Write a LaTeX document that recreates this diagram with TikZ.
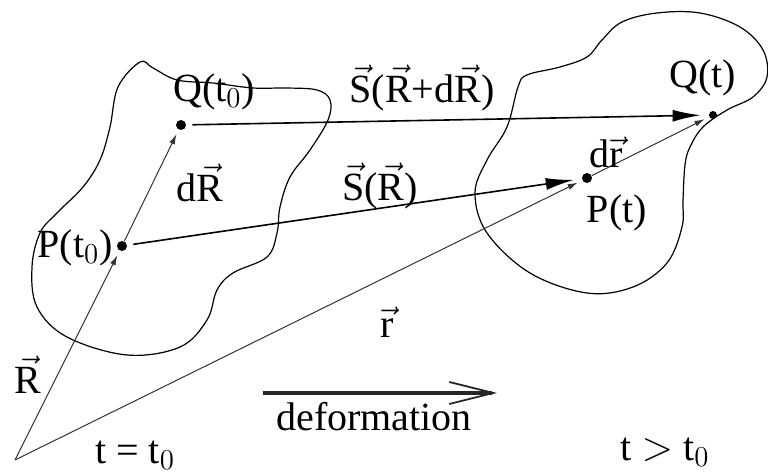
\documentclass[tikz,border=0pt]{standalone}
\usepackage{fontspec}
\setmainfont{Liberation Serif}
\usetikzlibrary{arrows.meta,calc,positioning}

\begin{document}
\begin{tikzpicture}[x=0.5pt, y=-0.5pt,
  dot/.style={circle, fill=black, inner sep=0pt, minimum size=5pt},
  lbl/.style={font=\fontsize{20}{23}\selectfont, inner sep=0pt},
  thinvec/.style={draw=black!80, line width=0.5pt,
                  -{Latex[length=5pt,width=3pt]}, shorten >=2.5pt},
  svec/.style={line width=0.8pt, -{Latex[length=14pt,width=6pt]},
               shorten >=4pt, shorten <=3pt},
  body/.style={line width=0.6pt}]
\useasboundingbox (0,0) rectangle (768,475);

% material body at t = t_0 and at t > t_0
\draw[body] plot[smooth cycle, tension=0.6] coordinates {
  (140,62) (118,87) (110,127) (100,160) (83,187) (57,213) (40,233)
  (32,267) (37,307) (67,337) (127,355) (180,347) (207,320) (217,290)
  (233,273) (267,257) (277,233) (280,207) (290,177) (310,150) (328,120)
  (330,100) (317,90) (287,88) (253,88) (213,83) (177,80) (153,68)};
\draw[body] plot[smooth cycle, tension=0.6] coordinates {
  (587,57) (602,40) (622,22) (657,13) (700,13) (740,27) (763,50)
  (767,77) (753,97) (727,110) (703,127) (690,147) (685,165) (683,200)
  (682,227) (667,263) (633,287) (587,293) (530,273) (487,233) (475,193)
  (487,160) (507,127) (518,87) (527,75) (560,67)};

% points
\coordinate (O) at (15,460);
\node[dot] (P0) at (122,246) {};
\node[dot] (Q0) at (181,125) {};
\node[dot] (P1) at (587,178) {};
\node[dot, minimum size=4pt] (Q1) at (713,115) {};

% position vectors
\draw[thinvec] (O) -- (P0);
\draw[thinvec] (P0) -- (Q0);
\draw[thinvec] (O) -- (P1);
\draw[thinvec] (P1) -- (Q1);

% displacements
\draw[svec] (P0) -- (P1);
\draw[svec] (Q0) -- (Q1);

% deformation arrow
\coordinate (defA) at (263,393);
\coordinate (defB) at (497,393);
\draw[line width=1.6pt, black!85,
      -{Straight Barb[length=22pt,width=11pt,line width=0.9pt]}] (defA) -- (defB);

% labels
\node[lbl] (lQ0) at (214,92)  {Q(t$_0$)};
\node[lbl] (lP0) at (75,248)  {P(t$_0$)};
\node[lbl] (lQ1) at (703,78)  {Q(t)};
\node[lbl] (lP1) at (617,213) {P(t)};
\node[lbl] (lSd) at (422,88)  {$\vec{\mathrm{S}}$($\vec{\mathrm{R}}$+d$\vec{\mathrm{R}}$)};
\node[lbl] (lS)  at (380,186) {$\vec{\mathrm{S}}$($\vec{\mathrm{R}}$)};
\node[lbl] (ldR) at (200,183) {d$\vec{\mathrm{R}}$};
\node[lbl] (ldr) at (606,152) {d$\vec{\mathrm{r}}$};
\node[lbl] (lr)  at (387,322) {$\vec{\mathrm{r}}$};
\node[lbl] (lR)  at (28,375)  {$\vec{\mathrm{R}}$};
\node[lbl] (lt0) at (135,455) {t = t$_0$};
\node[lbl] (lt1) at (665,452) {t $>$ t$_0$};
\node[lbl] (ldf) at (374,417) {deformation};
\end{tikzpicture}
\end{document}
